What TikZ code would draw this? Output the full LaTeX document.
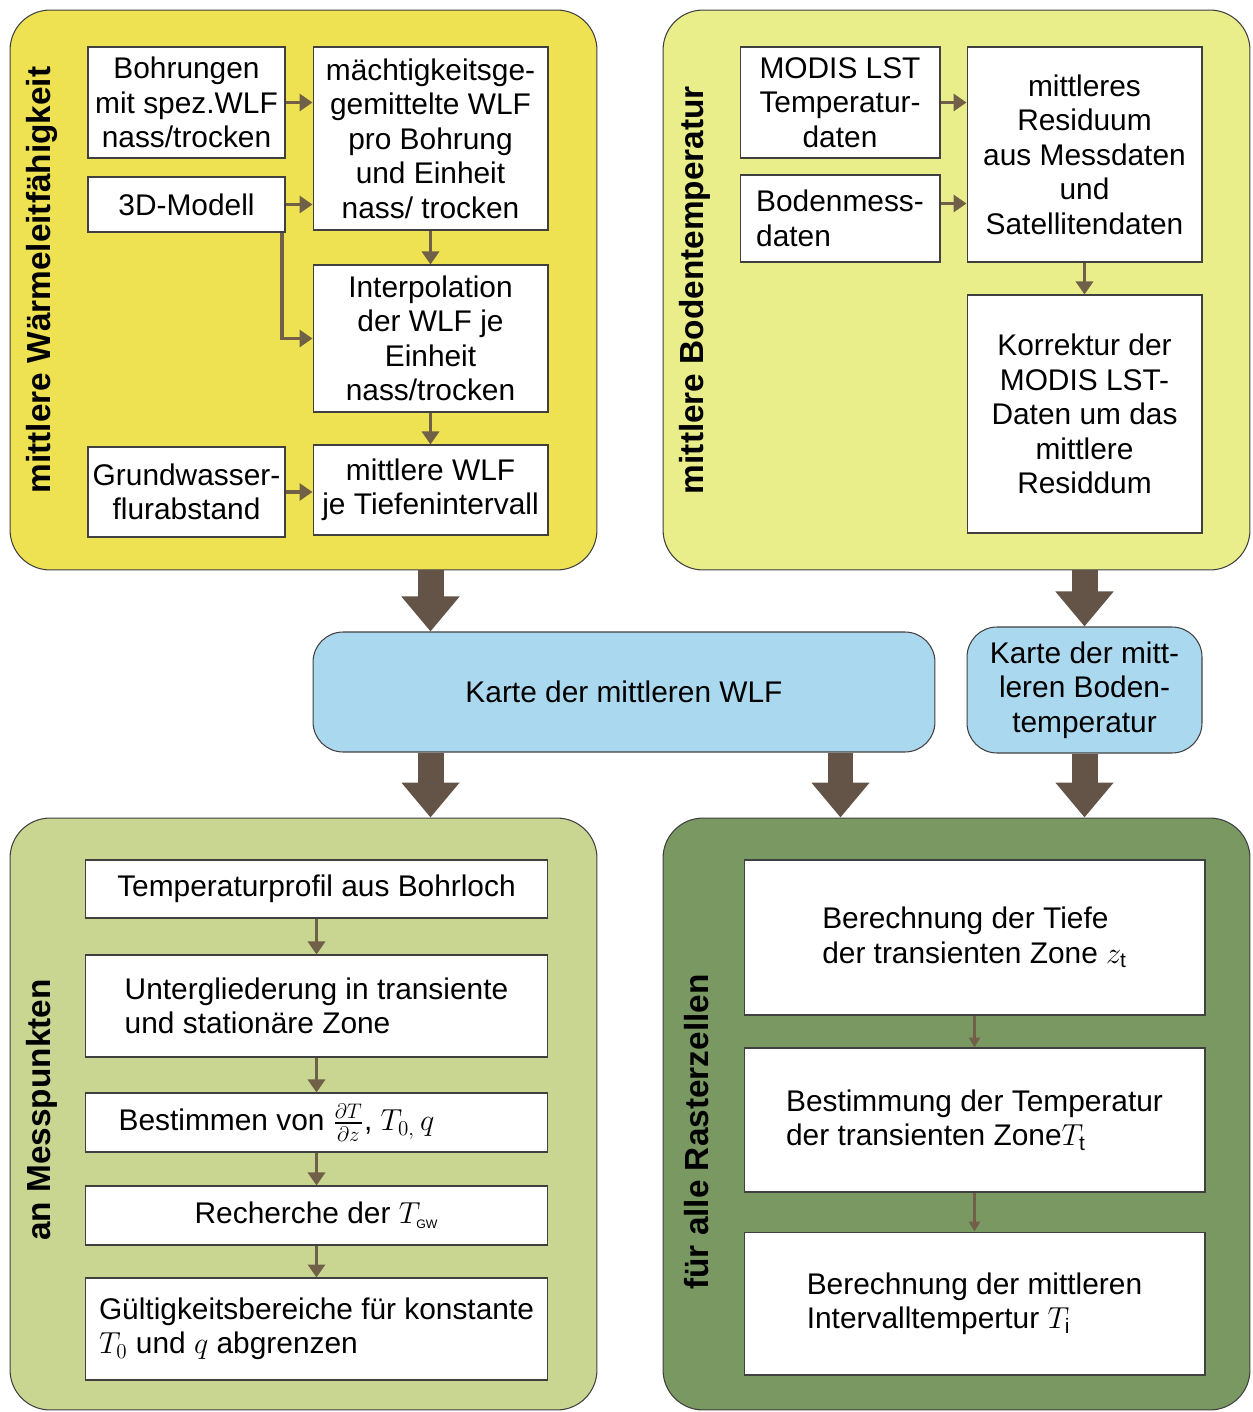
\documentclass[tikz,border=0pt]{standalone}
\usepackage{amsmath}
\usepackage{fontspec}
\setmainfont{Liberation Sans}
\usepackage{tikz}
\usetikzlibrary{arrows.meta}

\definecolor{wlfyellow}{RGB}{238,226,82}
\definecolor{bodenyellow}{RGB}{233,237,138}
\definecolor{messgreen}{RGB}{200,214,146}
\definecolor{rastergreen}{RGB}{122,152,98}
\definecolor{kartenblue}{RGB}{170,216,238}
\definecolor{arrowbrown}{RGB}{100,84,72}
\definecolor{tipbrown}{RGB}{112,96,72}

\tikzset{
  panel/.style={draw=black!75,line width=0.6pt,rounded corners=0.8cm},
  karte/.style={draw=black!75,line width=0.6pt,rounded corners=0.6cm,fill=kartenblue,align=center,inner sep=0pt},
  box/.style={draw=black!75,line width=0.6pt,fill=white,align=center,inner sep=0pt},
  lbox/.style={box,align=left},
  seitentitel/.style={rotate=90,font=\fontsize{19}{21}\selectfont\bfseries},
  pfeil/.style={draw=tipbrown,line width=2.2pt,-{Triangle[width=0.34cm,length=0.26cm]}},
  duennpfeil/.style={draw=tipbrown,line width=1.4pt,-{Triangle[width=0.22cm,length=0.2cm]}},
  grosspfeil/.style={draw=arrowbrown,line width=0.52cm,-{Triangle[width=1.12cm,length=0.7cm]}}
}

\begin{document}
\begin{tikzpicture}[x=0.02cm,y=-0.02cm,font=\fontsize{17}{19.6}\selectfont]
  \useasboundingbox (0,0) rectangle (1252,1412);

  % die vier Felder
  \node[panel,fill=wlfyellow,minimum width=11.74cm,minimum height=11.2cm] (p1) at (303.5,290) {};
  \node[panel,fill=bodenyellow,minimum width=11.74cm,minimum height=11.2cm] (p2) at (956.5,290) {};
  \node[panel,fill=messgreen,minimum width=11.74cm,minimum height=11.84cm] (p3) at (303.5,1114) {};
  \node[panel,fill=rastergreen,minimum width=11.74cm,minimum height=11.84cm] (p4) at (956.5,1114) {};

  \node[seitentitel] at (42,280) {mittlere Wärmeleitfähigkeit};
  \node[seitentitel] at (695,290) {mittlere Bodentemperatur};
  \node[seitentitel] at (42,1110) {an Messpunkten};
  \node[seitentitel] at (697,1132) {für alle Rasterzellen};

  % mittlere Waermeleitfaehigkeit
  \node[box,minimum width=3.94cm,minimum height=2.22cm] (bohr) at (186.5,102.5) {Bohrungen\\mit spez.WLF\\nass/trocken};
  \node[box,minimum width=3.94cm,minimum height=1.1cm] (modell) at (186.5,204.5) {3D-Modell};
  \node[box,minimum width=3.94cm,minimum height=1.8cm] (grund) at (186.5,492) {Grundwasser-\\flurabstand};
  \node[box,minimum width=4.7cm,minimum height=3.66cm] (maecht) at (430.5,138.5) {mächtigkeitsge-\\gemittelte WLF\\pro Bohrung\\und Einheit\\nass/ trocken};
  \node[box,minimum width=4.7cm,minimum height=2.94cm] (interp) at (430.5,338.5) {Interpolation\\der WLF je\\Einheit\\nass/trocken};
  \node[box,minimum width=4.7cm,minimum height=1.8cm] (mwlf) at (430.5,490) {mittlere WLF\\je Tiefenintervall};

  \draw[pfeil] (bohr.east) -- (maecht.west |- bohr.east);
  \draw[pfeil] (modell.east) -- (maecht.west |- modell.east);
  \draw[pfeil] ([xshift=-2pt]modell.south east) |- (interp.west);
  \draw[pfeil] (maecht.south) -- (interp.north);
  \draw[pfeil] (interp.south) -- (mwlf.north);
  \draw[pfeil] (grund.east) -- (mwlf.west |- grund.east);

  % mittlere Bodentemperatur
  \node[box,minimum width=4cm,minimum height=2.22cm] (modis) at (840,102.5) {MODIS LST\\Temperatur-\\daten};
  \node[lbox,minimum width=4cm,minimum height=1.74cm] (boden) at (840,218.5) {Bodenmess-\\daten\hspace{2.3em}};
  \node[box,minimum width=4.7cm,minimum height=4.3cm] (resid) at (1084.5,154.5) {mittleres\\Residuum\\aus Messdaten\\und\\Satellitendaten};
  \node[box,minimum width=4.7cm,minimum height=4.76cm] (korr) at (1084.5,414) {Korrektur der\\MODIS LST-\\Daten um das\\mittlere\\Residdum};
  \coordinate (bodenaus) at ([yshift=0.3cm]boden.east);

  \draw[pfeil] (modis.east) -- (resid.west |- modis.east);
  \draw[pfeil] (bodenaus) -- (resid.west |- bodenaus);
  \draw[pfeil] (resid.south) -- (korr.north);

  % Karten
  \node[karte,minimum width=12.44cm,minimum height=2.4cm] (kwlf) at (624,692) {Karte der mittleren WLF};
  \node[karte,minimum width=4.7cm,minimum height=2.52cm] (kbod) at (1084.5,690) {Karte der mitt-\\leren Boden-\\temperatur};
  \coordinate (kwlfrechts) at ([xshift=-1.9cm]kwlf.south east);

  \draw[grosspfeil] (p1.south -| mwlf) -- (kwlf.north -| mwlf);
  \draw[grosspfeil] (p2.south -| kbod) -- (kbod.north);
  \draw[grosspfeil] (kwlf.south -| mwlf) -- (p3.north -| mwlf);
  \draw[grosspfeil] (kwlfrechts) -- (kwlfrechts |- p4.north);
  \draw[grosspfeil] (kbod.south) -- (kbod.south |- p4.north);

  % an Messpunkten
  \node[box,minimum width=9.26cm,minimum height=1.16cm] (tprofil) at (316.5,889) {Temperaturprofil aus Bohrloch};
  \node[lbox,minimum width=9.26cm,minimum height=2.04cm] (unter) at (316.5,1006) {Untergliederung in transiente\\und stationäre Zone};
  \node[box,minimum width=9.26cm,minimum height=1.18cm] (bestimmen) at (316.5,1122.5) {Bestimmen von $\frac{\partial T}{\partial z}$, $T_{0,}\,q$\hspace{1.6cm}};
  \node[box,minimum width=9.26cm,minimum height=1.18cm] (recherche) at (316.5,1215.5) {Recherche der $T_{\textrm{\scriptsize GW}}$};
  \node[lbox,minimum width=9.26cm,minimum height=2.04cm] (gueltig) at (316.5,1329) {Gültigkeitsbereiche für konstante\\$T_0$ und $q$ abgrenzen};

  \draw[pfeil] (tprofil) -- (unter);
  \draw[pfeil] (unter) -- (bestimmen);
  \draw[pfeil] (bestimmen) -- (recherche);
  \draw[pfeil] (recherche) -- (gueltig);

  % fuer alle Rasterzellen
  \node[lbox,minimum width=9.22cm,minimum height=3.1cm] (tiefe) at (974.5,937.5) {Berechnung der Tiefe\\der transienten Zone $z_{\mathrm{t}}$};
  \node[lbox,minimum width=9.22cm,minimum height=2.88cm] (ttrans) at (974.5,1120) {Bestimmung der Temperatur\\der transienten Zone$T_{\mathrm{t}}$};
  \node[lbox,minimum width=9.22cm,minimum height=2.86cm] (tint) at (974.5,1303.5) {Berechnung der mittleren\\Intervalltempertur $T_{\mathrm{i}}$};

  \draw[duennpfeil] (tiefe) -- (ttrans);
  \draw[duennpfeil] (ttrans) -- (tint);
\end{tikzpicture}
\end{document}
